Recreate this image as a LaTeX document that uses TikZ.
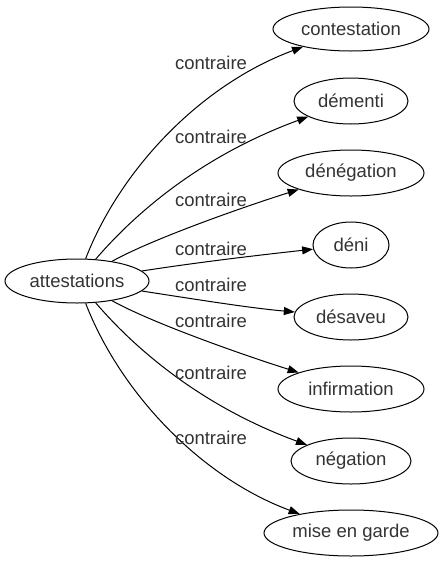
\documentclass[tikz,border=0pt]{standalone}
\usepackage{fontspec}
\setmainfont{Liberation Sans}
\usetikzlibrary{shapes.geometric,arrows.meta}
\begin{document}
\begin{tikzpicture}[x=1pt,y=-1pt,
  every node/.style={font=\fontsize{18.5}{22}\selectfont, text=black!80},
  term/.style={draw, ellipse, inner sep=0pt, line width=1pt, text=black!80},
  lbl/.style={inner sep=0pt},
  edge/.style={line width=1pt, -{Triangle[length=11pt,width=8pt]}}]
\useasboundingbox (0,0) rectangle (443,563);
\node[term, minimum width=144, minimum height=44] (att) at (77,281) {attestations};
\node[term, minimum width=156, minimum height=44] (t1) at (351,29) {contestation};
\node[term, minimum width=114, minimum height=46] (t2) at (351,101) {démenti};
\node[term, minimum width=146, minimum height=46] (t3) at (351,173) {dénégation};
\node[term, minimum width=76, minimum height=46] (t4) at (351,245) {déni};
\node[term, minimum width=114, minimum height=46] (t5) at (351,317) {désaveu};
\node[term, minimum width=146, minimum height=46] (t6) at (351,389) {infirmation};
\node[term, minimum width=120, minimum height=46] (t7) at (351,461) {négation};
\node[term, minimum width=174, minimum height=46] (t8) at (351,533) {mise en garde};
\draw[edge] (att) .. controls (120,170) and (200,85) .. (t1);
\draw[edge] (att) .. controls (125,225) and (190,160) .. (t2);
\draw[edge] (att) .. controls (150,240) and (240,208) .. (t3);
\draw[edge] (att) .. controls (200,262) and (260,255) .. (t4);
\draw[edge] (att) .. controls (200,300) and (250,308) .. (t5);
\draw[edge] (att) .. controls (150,322) and (240,354) .. (t6);
\draw[edge] (att) .. controls (125,337) and (190,402) .. (t7);
\draw[edge] (att) .. controls (120,392) and (200,477) .. (t8);
\node[lbl] (l1) at (211,63) {contraire};
\node[lbl] (l2) at (211,137) {contraire};
\node[lbl] (l3) at (211,200) {contraire};
\node[lbl] (l4) at (211,249) {contraire};
\node[lbl] (l5) at (211,285) {contraire};
\node[lbl] (l6) at (211,321) {contraire};
\node[lbl] (l7) at (211,373) {contraire};
\node[lbl] (l8) at (211,438) {contraire};
\end{tikzpicture}
\end{document}
